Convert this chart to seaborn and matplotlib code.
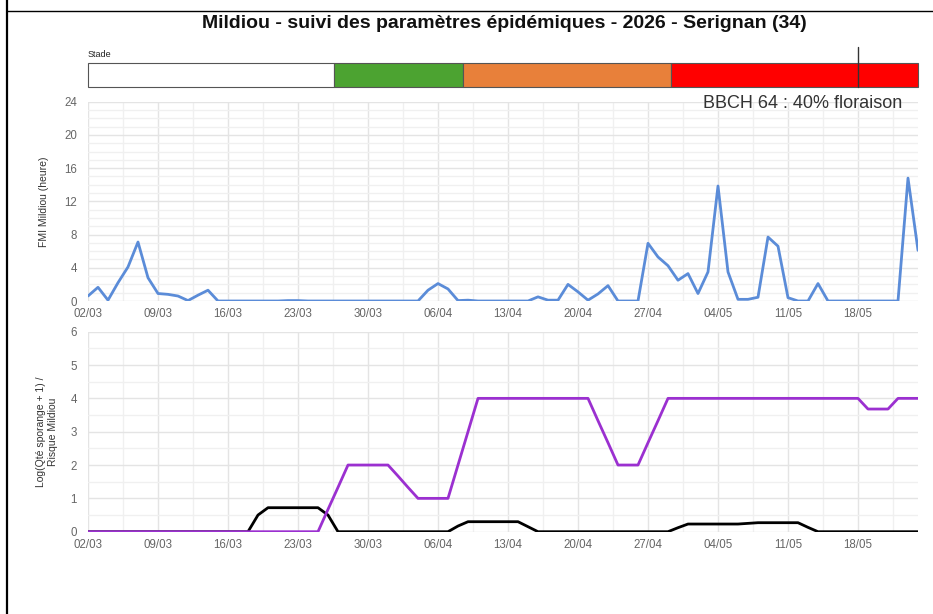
import numpy as np
import pandas as pd
import seaborn as sns
import matplotlib.pyplot as plt
from matplotlib.lines import Line2D

# données (jours depuis le 02/03)
jours = np.arange(84)
fmi = [0.6, 1.65, 0.1, 2.2, 4.1, 7.1, 2.8, 0.9, 0.8, 0.6,
       0.05, 0.7, 1.3, 0, 0, 0, 0, 0, 0, 0,
       0.05, 0.05, 0, 0, 0, 0, 0, 0, 0, 0,
       0, 0, 0, 0, 1.3, 2.1, 1.45, 0.05, 0.1, 0,
       0, 0, 0, 0, 0, 0.5, 0.1, 0.1, 2.0, 1.1,
       0.1, 0.85, 1.85, 0, 0, 0, 6.95, 5.3, 4.25, 2.5,
       3.3, 0.9, 3.5, 13.85, 3.5, 0.2, 0.2, 0.45, 7.7, 6.6,
       0.4, 0, 0, 2.1, 0, 0, 0, 0, 0, 0,
       0, 0, 14.8, 6.1]
risque = [0] * 24 + [0.67, 1.33, 2, 2, 2, 2, 2, 1.67, 1.33, 1,
                     1, 1, 1, 2, 3, 4, 4, 4, 4, 4,
                     4, 4, 4, 4, 4, 4, 4, 3.33, 2.67, 2,
                     2, 2, 2.67, 3.33, 4, 4, 4, 4, 4, 4,
                     4, 4, 4, 4, 4, 4, 4, 4, 4, 4,
                     4, 4, 4, 4, 3.68, 3.68, 3.68, 4, 4, 4]
sporange = [0] * 17 + [0.5, 0.72, 0.72, 0.72, 0.72, 0.72, 0.72, 0.5, 0,
                       0, 0, 0, 0, 0, 0, 0, 0, 0, 0,
                       0, 0.17, 0.3, 0.3, 0.3, 0.3, 0.3, 0.3, 0.15, 0,
                       0, 0, 0, 0, 0, 0, 0, 0, 0, 0,
                       0, 0, 0, 0.12, 0.23, 0.23, 0.23, 0.23, 0.23, 0.23,
                       0.25, 0.27, 0.27, 0.27, 0.27, 0.27, 0.13, 0,
                       0, 0, 0, 0, 0, 0, 0, 0, 0, 0]

tick_jours = [0, 7, 14, 21, 28, 35, 42, 49, 56, 63, 70, 77]
tick_labels = ['02/03', '09/03', '16/03', '23/03', '30/03', '06/04',
               '13/04', '20/04', '27/04', '04/05', '11/05', '18/05']

# stades phénologiques (début, fin en jours)
stade_debut = [0, 24.6, 37.5, 58.3]
stade_fin = [24.6, 37.5, 58.3, 83]
stade_couleurs = ['#ffffff', '#4ca331', '#e8803a', '#ff0000']
jour_actuel = 77

df = pd.DataFrame({'jour': jours, 'fmi': fmi, 'risque': risque, 'sporange': sporange})

sns.set_theme(style='white')
plt.rcParams['font.family'] = ['Liberation Sans', 'DejaVu Sans']

fig = plt.figure(figsize=(9.33, 6.14), dpi=100)
L, W = 88 / 933, 830 / 933
ax_st = fig.add_axes([L, 1 - 87 / 614, W, 24 / 614])
ax1 = fig.add_axes([L, 1 - 301 / 614, W, 199.3 / 614])
ax2 = fig.add_axes([L, 1 - 531.7 / 614, W, 200 / 614])

# barre des stades
bars = ax_st.barh([0] * 4, np.array(stade_fin) - np.array(stade_debut), left=stade_debut,
                  color=stade_couleurs, height=1, edgecolor='#555555', linewidth=0.8)
for b in bars:
    b.set_clip_on(False)
ax_st.set_xlim(0, 83)
ax_st.set_ylim(-0.5, 0.5)
ax_st.axis('off')
ax_st.plot([jour_actuel, jour_actuel], [-0.5, 1.17], color='#333333', lw=1, clip_on=False)
ax_st.text(0, 0.65, 'Stade', fontsize=6.5, color='#222222', va='bottom', ha='left')

gris = '#666666'

def style_axe(ax, ymax, ymaj, ymin):
    ax.set_xlim(0, 83)
    ax.set_ylim(0, ymax)
    ax.set_xticks(tick_jours)
    ax.set_xticklabels(tick_labels)
    ax.set_xticks(np.arange(0, 83, 3.5), minor=True)
    ax.set_yticks(np.arange(0, ymax + 0.01, ymaj))
    ax.set_yticks(np.arange(0, ymax + 0.01, ymin), minor=True)
    ax.grid(True, which='major', color='#e4e4e4', lw=1)
    ax.grid(True, which='minor', color='#f0f0f0', lw=1)
    ax.tick_params(axis='x', which='both', length=0, labelsize=8.3, labelcolor=gris, pad=5)
    ax.tick_params(axis='y', which='both', length=0, labelsize=8.3, labelcolor=gris, pad=8)
    ax.set_xlabel('')
    for s in ax.spines.values():
        s.set_visible(False)
    ax.set_axisbelow(True)

sns.lineplot(data=df, x='jour', y='fmi', ax=ax1, color='#5b8cd8', lw=2)
style_axe(ax1, 24, 4, 1)
ax1.set_ylabel('FMI Mildiou (heure)', fontsize=7.5, color='#333333', labelpad=11)

sns.lineplot(data=df, x='jour', y='sporange', ax=ax2, color='#000000', lw=2)
sns.lineplot(data=df, x='jour', y='risque', ax=ax2, color='#9b30d0', lw=2)
style_axe(ax2, 6, 1, 0.5)
ax2.set_ylabel('Log(Qté sporange + 1) /\nRisque Mildiou', fontsize=7.5, color='#333333',
               labelpad=9, linespacing=1.2)

fig.text(902 / 933, 1 - 104 / 614, 'BBCH 64 : 40% floraison',
         ha='right', va='center', fontsize=13, color='#333333')
fig.text(504 / 933, 1 - 23.5 / 614, 'Mildiou - suivi des paramètres épidémiques - 2026 - Serignan (34)',
         ha='center', va='center', fontsize=14, fontweight='bold', color='#111111')

# cadre
fig.add_artist(Line2D([6.5 / 933, 6.5 / 933], [0, 1], color='black', lw=1.6))
fig.add_artist(Line2D([6.5 / 933, 1], [1 - 10.5 / 614, 1 - 10.5 / 614], color='black', lw=1))

fig.savefig('out.png', dpi=100)
